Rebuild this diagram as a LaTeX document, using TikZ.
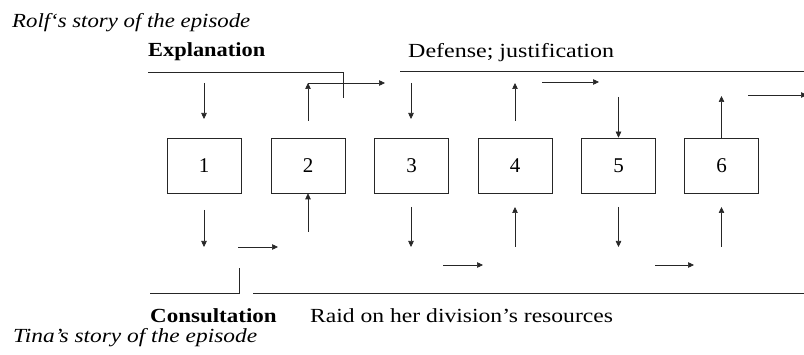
\documentclass[tikz,border=0pt]{standalone}
\usepackage{fontspec}
\setmainfont{Liberation Serif}
\usetikzlibrary{arrows.meta}
\newcommand{\wideby}[2]{\scalebox{#1}[1]{#2}}
\begin{document}
\begin{tikzpicture}[x=1pt,y=-1pt,
  ln/.style={line width=0.6pt,draw=black!85},
  arr/.style={ln,-{Triangle[length=6pt,width=5.5pt]}},
  box/.style={ln,minimum width=74pt,minimum height=55pt,inner sep=0pt,font=\fontsize{21}{23}\selectfont},
  lbl/.style={inner sep=0pt,anchor=base west,font=\fontsize{20}{22}\selectfont},
  ital/.style={lbl,font=\fontsize{20}{22}\selectfont\itshape},
  bld/.style={lbl,font=\fontsize{20}{22}\selectfont\bfseries}]
\useasboundingbox (0,0) rectangle (804,355);
% titles
\node[ital] (rolf) at (12,28) {\wideby{1.14}{Rolf`s story of the episode}};
\node[bld] (expl) at (148,57) {\wideby{1.12}{Explanation}};
\node[lbl] (def) at (408,58) {\wideby{1.2}{Defense; justification}};
\node[bld] (cons) at (150,323) {\wideby{1.15}{Consultation}};
\node[lbl] (raid) at (310,323) {\wideby{1.18}{Raid on her division's resources}};
\node[ital] (tina) at (13,343) {\wideby{1.17}{Tina's story of the episode}};
% boxes
\node[box] (b1) at (204,165.5) {1};
\node[box] (b2) at (308,165.5) {2};
\node[box] (b3) at (411.5,165.5) {3};
\node[box] (b4) at (515,165.5) {4};
\node[box] (b5) at (618.5,165.5) {5};
\node[box] (b6) at (721.5,165.5) {6};
% top lines
\coordinate (tl1) at (148,72);
\coordinate (tl2) at (343,72);
\coordinate (tl3) at (343,98);
\draw[ln] (tl1) -- (tl2) -- (tl3);
\coordinate (tr1) at (400,71);
\coordinate (tr2) at (804,71);
\draw[ln] (tr1) -- (tr2);
% bottom lines
\coordinate (bl1) at (150,293);
\coordinate (bl2) at (239,293);
\coordinate (bl3) at (239,268);
\draw[ln] (bl1) -- (bl2) -- (bl3);
\coordinate (br1) at (253,293);
\coordinate (br2) at (804,293);
\draw[ln] (br1) -- (br2);
% top arrows
\coordinate (a1s) at (204,83); \coordinate (a1e) at (204,119);
\draw[arr] (a1s) -- (a1e);
\coordinate (a2s) at (308,121); \coordinate (a2e) at (308,83);
\draw[arr] (a2s) -- (a2e);
\coordinate (a2h) at (385,83);
\draw[arr] (a2e) -- (a2h);
\coordinate (a3s) at (411,83); \coordinate (a3e) at (411,119);
\draw[arr] (a3s) -- (a3e);
\coordinate (a4s) at (515,121); \coordinate (a4e) at (515,83);
\draw[arr] (a4s) -- (a4e);
\coordinate (h4s) at (542,82); \coordinate (h4e) at (599,82);
\draw[arr] (h4s) -- (h4e);
\coordinate (a5s) at (618.5,97);
\draw[arr] (a5s) -- (b5.north);
\coordinate (a6e) at (721.5,96);
\draw[arr] (b6.north) -- (a6e);
\coordinate (h6s) at (748,95); \coordinate (h6e) at (807,95);
\draw[arr] (h6s) -- (h6e);
% bottom arrows
\coordinate (c1s) at (204,210); \coordinate (c1e) at (204,247);
\draw[arr] (c1s) -- (c1e);
\coordinate (d1s) at (238,247); \coordinate (d1e) at (278,247);
\draw[arr] (d1s) -- (d1e);
\coordinate (c2s) at (308,232);
\draw[arr] (c2s) -- (b2.south);
\coordinate (c3s) at (411,207); \coordinate (c3e) at (411,247);
\draw[arr] (c3s) -- (c3e);
\coordinate (d3s) at (443,265); \coordinate (d3e) at (483,265);
\draw[arr] (d3s) -- (d3e);
\coordinate (c4s) at (515,247); \coordinate (c4e) at (515,207);
\draw[arr] (c4s) -- (c4e);
\coordinate (c5s) at (618.5,207); \coordinate (c5e) at (618.5,247);
\draw[arr] (c5s) -- (c5e);
\coordinate (d5s) at (655,265); \coordinate (d5e) at (694,265);
\draw[arr] (d5s) -- (d5e);
\coordinate (c6s) at (721.5,247); \coordinate (c6e) at (721.5,207);
\draw[arr] (c6s) -- (c6e);
\end{tikzpicture}
\end{document}
